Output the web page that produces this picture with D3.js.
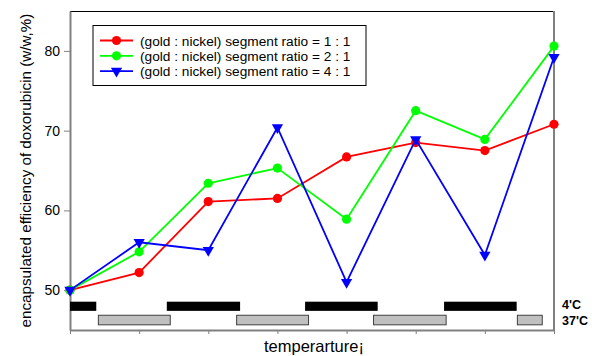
<!DOCTYPE html>
<html>
<head>
<meta charset="utf-8">
<script src="https://cdn.jsdelivr.net/npm/d3@7"></script>
<style>
  body { margin: 0; background: #fff; }
  text { font-family: "Liberation Sans", Arial, sans-serif; }
</style>
</head>
<body>
<div id="chart"></div>
<script>
// sample index 0..7 along the temperature cycle
const steps = [0, 1, 2, 3, 4, 5, 6, 7]
const ratio11 = [50.0, 52.2, 61.1, 61.5, 66.7, 68.5, 67.5, 70.8]
const ratio21 = [50.0, 54.8, 63.4, 65.3, 58.9, 72.5, 68.9, 80.6]
const ratio41 = [50.0, 56.0, 55.0, 70.4, 51.0, 68.9, 54.4, 79.2]
const seriesNames = [
    "(gold : nickel) segment ratio = 1 : 1",
    "(gold : nickel) segment ratio = 2 : 1",
    "(gold : nickel) segment ratio = 4 : 1"
]
const yTicks = [50, 60, 70, 80]

// temperature periods, in step units
const cold = [[0, 0.38], [1.40, 2.46], [3.40, 4.45], [5.41, 6.46]]
const warm = [[0.41, 1.45], [2.41, 3.45], [4.39, 5.44], [6.47, 6.83]]
const coldBand = [47.4, 48.55]
const warmBand = [45.65, 46.85]

const width = 592, height = 356
const margin = {top: 11, right: 38, bottom: 26, left: 70}

const svg = d3.select("#chart").append("svg")
    .attr("width", width)
    .attr("height", height)

const x = d3.scaleLinear().domain([0, 7]).range([margin.left, width - margin.right])
const y = d3.scaleLinear().domain([45, 85]).range([height - margin.bottom, margin.top])

// frame: top thin black, right gray
svg.append("line")
    .attr("x1", x(0)).attr("x2", x(7))
    .attr("y1", y(85) + 0.5).attr("y2", y(85) + 0.5)
    .attr("stroke", "#000").attr("stroke-width", 1)
svg.append("line")
    .attr("x1", x(7)).attr("x2", x(7))
    .attr("y1", y(85)).attr("y2", y(45))
    .attr("stroke", "#808080").attr("stroke-width", 2)

// axes
let yAxis = svg.append("g")
    .attr("transform", `translate(${x(0)},0)`)
    .call(d3.axisLeft(y).tickValues(yTicks).tickSize(6).tickPadding(4).tickSizeOuter(0))
yAxis.select(".domain").attr("stroke", "#808080").attr("stroke-width", 2)
yAxis.selectAll(".tick line").attr("stroke", "#808080")
yAxis.selectAll("text").attr("font-size", 14).attr("fill", "#000")
    .style("font-family", "Liberation Sans, Arial, sans-serif")

let xAxis = svg.append("g")
    .attr("transform", `translate(0,${y(45)})`)
    .call(d3.axisBottom(x).tickValues(steps).tickSize(4).tickSizeOuter(0).tickFormat(""))
xAxis.select(".domain").attr("stroke", "#808080").attr("stroke-width", 2)
xAxis.selectAll(".tick line").attr("stroke", "#808080")

// temperature bars
svg.append("g").selectAll("rect")
    .data(cold).enter().append("rect")
    .attr("x", d => x(d[0]))
    .attr("width", d => x(d[1]) - x(d[0]))
    .attr("y", y(coldBand[1]))
    .attr("height", y(coldBand[0]) - y(coldBand[1]))
    .attr("fill", "#000")

svg.append("g").selectAll("rect")
    .data(warm).enter().append("rect")
    .attr("x", d => x(d[0]))
    .attr("width", d => x(d[1]) - x(d[0]))
    .attr("y", y(warmBand[1]))
    .attr("height", y(warmBand[0]) - y(warmBand[1]))
    .attr("fill", "#c0c0c0")
    .attr("stroke", "#404040")
    .attr("stroke-width", 1)

svg.append("text")
    .attr("x", 562).attr("y", 309)
    .attr("font-size", 12.5).attr("font-weight", "bold")
    .text("4'C")
svg.append("text")
    .attr("x", 562).attr("y", 324.5)
    .attr("font-size", 12.5).attr("font-weight", "bold")
    .text("37'C")

// series
const series = [
    {values: ratio11, color: "#ff0000", marker: "circle"},
    {values: ratio21, color: "#00ff00", marker: "circle"},
    {values: ratio41, color: "#0000ff", marker: "triangle"}
]
const line = d3.line().x((d, i) => x(steps[i])).y(d => y(d))
const tri = d3.symbol().type(d3.symbolTriangle).size(55)

function drawMarker(g, type, color, cx, cy) {
    if (type === "circle") {
        g.append("circle").attr("cx", cx).attr("cy", cy).attr("r", 4.6).attr("fill", color)
    } else {
        g.append("path").attr("d", tri)
            .attr("transform", `translate(${cx},${cy}) rotate(180)`)
            .attr("fill", color)
    }
}

series.forEach(s => {
    svg.append("path")
        .datum(s.values)
        .attr("d", line)
        .attr("fill", "none")
        .attr("stroke", s.color)
        .attr("stroke-width", 1.8)
    let g = svg.append("g")
    s.values.forEach((v, i) => drawMarker(g, s.marker, s.color, x(steps[i]), y(v)))
})

// legend
let legend = svg.append("g")
legend.append("rect")
    .attr("x", 93).attr("y", 25.5)
    .attr("width", 273).attr("height", 60)
    .attr("fill", "#fff").attr("stroke", "#000").attr("stroke-width", 1)
series.forEach((s, i) => {
    let ly = 40.5 + i * 15.3
    legend.append("line")
        .attr("x1", 100).attr("x2", 133)
        .attr("y1", ly).attr("y2", ly)
        .attr("stroke", s.color).attr("stroke-width", 1.8)
    drawMarker(legend, s.marker, s.color, 116.5, ly)
    legend.append("text")
        .attr("x", 140).attr("y", ly + 5)
        .attr("font-size", 13.7)
        .text(seriesNames[i])
})

// axis titles
svg.append("text")
    .attr("transform", `translate(31,${(y(45) + y(85)) / 2}) rotate(-90)`)
    .attr("text-anchor", "middle")
    .attr("font-size", 15.2)
    .text("encapsulated efficiency of doxorubicin (w/w,%)")

svg.append("text")
    .attr("x", (x(0) + x(7)) / 2 + 2)
    .attr("y", 352)
    .attr("text-anchor", "middle")
    .attr("font-size", 16.5)
    .text("temperarture¡")
</script>
</body>
</html>
